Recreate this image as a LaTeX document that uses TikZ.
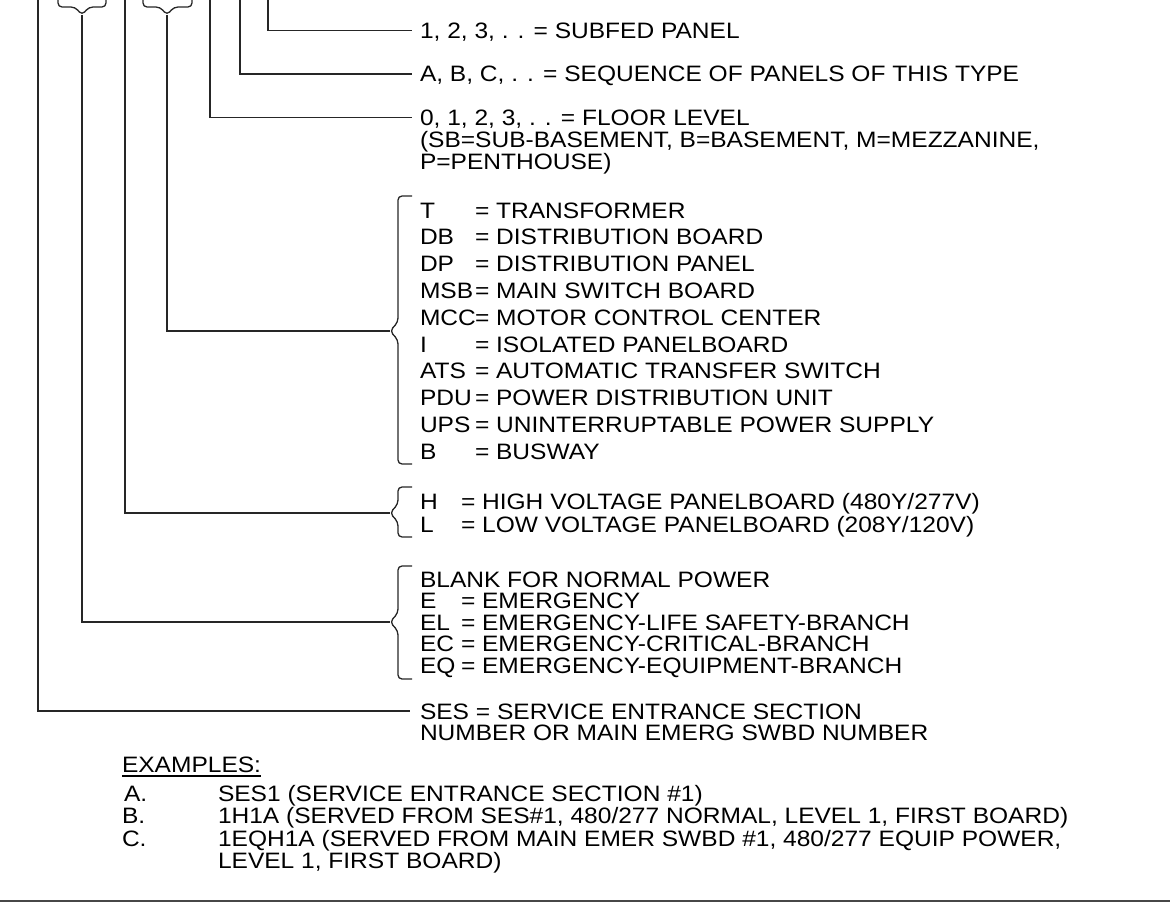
\documentclass[tikz,border=0pt]{standalone}
\usepackage{fontspec}
\setmainfont{Liberation Sans}[FakeStretch=1.1]
\newcommand\mybrace[4]{% name, top, tip, bottom
  \coordinate (#1) at (390,#3);
  \draw[brace] (412,#2) -- (398,#2) -- (398,{#3-9}) -- (#1) -- (398,{#3+9}) -- (398,#4) -- (412,#4);}
\begin{document}
\begin{tikzpicture}[x=1pt,y=-1pt,
  txt/.style={font=\fontsize{22.3}{25}\selectfont, inner sep=0pt, outer sep=0pt, anchor=base west},
  wire/.style={line width=1.4pt, black!85},
  brace/.style={line width=1.3pt, black!85, rounded corners=4pt},
  rulebar/.style={line width=2.6pt, black!72}]
\useasboundingbox (0,0) rectangle (1170,923);

% ---- top texts
\node[txt] (subfed) at (420,38.5) {1, 2, 3, . . = SUBFED PANEL};
\node[txt] (seq)    at (420,82) {A, B, C, . . = SEQUENCE OF PANELS OF THIS TYPE};
\node[txt] (floor)  at (420,125.5) {0, 1, 2, 3, . . = FLOOR LEVEL};
\node[txt] (floorb) at (420,147.3) {(SB=SUB-BASEMENT, B=BASEMENT, M=MEZZANINE,};
\node[txt] (floorc) at (420,169.3) {P=PENTHOUSE)};

% ---- type list
\foreach \a/\d [count=\i from 0] in {T/TRANSFORMER, DB/DISTRIBUTION BOARD, DP/DISTRIBUTION PANEL, MSB/MAIN SWITCH BOARD, MCC/MOTOR CONTROL CENTER, I/ISOLATED PANELBOARD, ATS/AUTOMATIC TRANSFER SWITCH, PDU/POWER DISTRIBUTION UNIT, UPS/UNINTERRUPTABLE POWER SUPPLY, B/BUSWAY}
{ \node[txt] (ty\i) at (420,{218+\i*26.8}) {\a};
  \node[txt] (tyd\i) at (475,{218+\i*26.8}) {= \d}; }

% ---- voltage list
\node[txt] (hv)  at (420,509) {H};
\node[txt] (hvd) at (461,509) {= HIGH VOLTAGE PANELBOARD (480Y/277V)};
\node[txt] (lv)  at (420,532) {L};
\node[txt] (lvd) at (461,532) {= LOW VOLTAGE PANELBOARD (208Y/120V)};

% ---- emergency list
\node[txt] (blank) at (420,587) {BLANK FOR NORMAL POWER};
\foreach \a/\d [count=\i from 0] in {E/EMERGENCY, EL/EMERGENCY-LIFE SAFETY-BRANCH, EC/EMERGENCY-CRITICAL-BRANCH, EQ/EMERGENCY-EQUIPMENT-BRANCH}
{ \node[txt] (em\i) at (420,{608.5+\i*21.5}) {\a};
  \node[txt] (emd\i) at (461,{608.5+\i*21.5}) {= \d}; }

% ---- SES
\node[txt] (ses)  at (420,719) {SES = SERVICE ENTRANCE SECTION};
\node[txt] (sesb) at (420,740.5) {NUMBER OR MAIN EMERG SWBD NUMBER};

% ---- examples
\node[txt] (ex) at (122,772) {EXAMPLES:};
\draw[line width=1.2pt] ([yshift=-4pt]ex.base west) -- ([yshift=-4pt]ex.base east);
\node[txt] (exa)  at (124,801) {A.};
\node[txt] (exat) at (218,801) {SES1 (SERVICE ENTRANCE SECTION \#1)};
\node[txt] (exb)  at (122,823.5) {B.};
\node[txt] (exbt) at (218,823.5) {1H1A (SERVED FROM SES\#1, 480/277 NORMAL, LEVEL 1, FIRST BOARD)};
\node[txt] (exc)  at (122,846) {C.};
\node[txt] (exct) at (218,846) {1EQH1A (SERVED FROM MAIN EMER SWBD \#1, 480/277 EQUIP POWER,};
\node[txt] (exct2) at (218,868.5) {LEVEL 1, FIRST BOARD)};

% ---- braces on the right
\mybrace{tipTB}{196}{331}{464}
\mybrace{tipHL}{487}{513}{537}
\mybrace{tipEM}{566}{622}{679}

% ---- top braces
\coordinate (b1tip) at (82,15);
\coordinate (b2tip) at (167,15);
\draw[brace] (58,-3) -- (58,7) -- (75,7) -- (b1tip) -- (89,7) -- (106,7) -- (106,-3);
\draw[brace] (143,-3) -- (143,7) -- (160,7) -- (b2tip) -- (174,7) -- (192,7) -- (192,-3);

% ---- connector end points at the texts
\coordinate (cSub)   at ([xshift=-8pt,yshift=8pt]subfed.base west);
\coordinate (cSeq)   at ([xshift=-8pt,yshift=8pt]seq.base west);
\coordinate (cFloor) at ([xshift=-8pt,yshift=8pt]floor.base west);
\coordinate (cSes)   at ([xshift=-10pt,yshift=8pt]ses.base west);

% ---- connectors
\draw[wire] (268,0) |- (cSub);
\draw[wire] (240,0) |- (cSeq);
\draw[wire] (210,0) |- (cFloor);
\draw[wire] (b2tip) |- (tipTB);
\draw[wire] (125,0) |- (tipHL);
\draw[wire] (b1tip) |- (tipEM);
\draw[wire] (38,0) |- (cSes);

% ---- bottom rule
\coordinate (rl) at (0,901);
\coordinate (rr) at (1170,901);
\draw[rulebar] (rl) -- (rr);
\end{tikzpicture}
\end{document}
